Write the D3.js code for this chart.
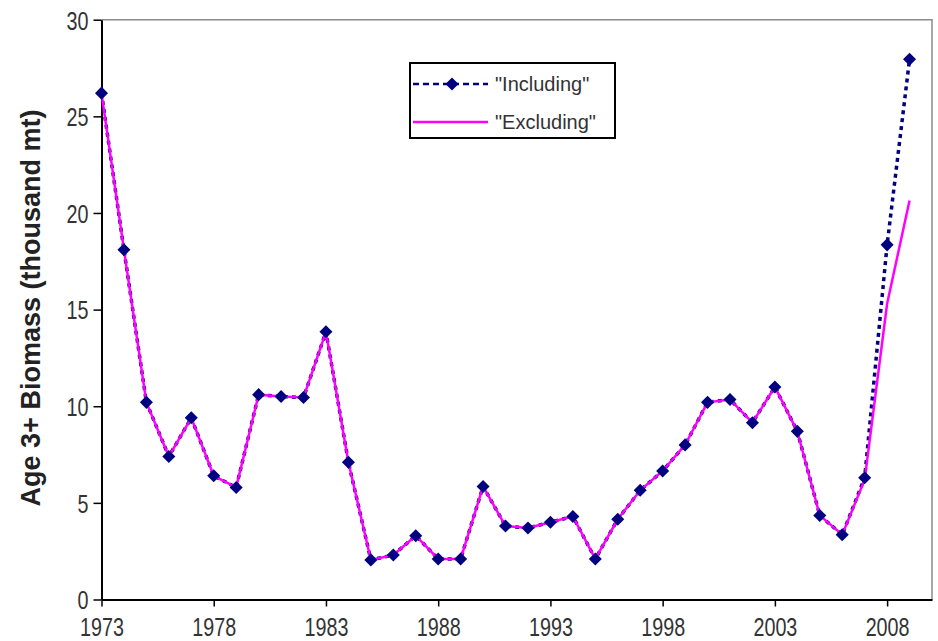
<html>
<head>
<script src="https://cdn.jsdelivr.net/npm/d3@7"></script>
<style>
  body { margin: 0; background: #fff; }
  text { font-family: "Liberation Sans", Arial, sans-serif; }
</style>
</head>
<body>
<script>

    // data
    var years = d3.range(1973, 2010);
    var including = [26.2, 18.1, 10.2, 7.4, 9.4, 6.4, 5.8, 10.6, 10.5, 10.45,
        13.85, 7.1, 2.05, 2.3, 3.3, 2.1, 2.1, 5.85, 3.8, 3.7,
        4.0, 4.3, 2.1, 4.15, 5.65, 6.65, 8.0, 10.2, 10.35, 9.15,
        11.0, 8.7, 4.35, 3.35, 6.3, 18.35, 27.95];
    var excluding = [26.2, 18.1, 10.2, 7.4, 9.4, 6.4, 5.8, 10.6, 10.5, 10.45,
        13.85, 7.1, 2.05, 2.3, 3.3, 2.1, 2.1, 5.85, 3.8, 3.7,
        4.0, 4.3, 2.1, 4.15, 5.65, 6.65, 8.0, 10.2, 10.35, 9.15,
        11.0, 8.7, 4.35, 3.35, 6.2, 15.3, 20.65];
    var yTicks = [0, 5, 10, 15, 20, 25, 30];
    var xTicks = [1973, 1978, 1983, 1988, 1993, 1998, 2003, 2008];
    var seriesNames = ['"Including"', '"Excluding"'];

    var w = 938, h = 641;
    var padL = 101.5, padT = 19.7, padR = 932, padB = 599.5;

    var x = d3.scaleLinear().domain([1973, 2010]).range([padL, padR]);
    var y = d3.scaleLinear().domain([0, 30]).range([padB, padT]);

    var svg = d3.select('body').append('svg')
        .attr('width', w)
        .attr('height', h);

    // top / right frame in gray
    svg.append('path')
        .attr('d', 'M' + padL + ',' + padT + 'H' + padR + 'V' + padB)
        .attr('fill', 'none')
        .attr('stroke', '#8c8c8c')
        .attr('stroke-width', 1.5);

    var sx = 0.76;

    var yAxis = svg.append('g')
        .attr('transform', 'translate(' + padL + ',0)')
        .call(d3.axisLeft(y).tickValues(yTicks).tickSize(8).tickPadding(0).tickSizeOuter(0));
    yAxis.select('.domain').attr('stroke', '#000').attr('stroke-width', 2);
    yAxis.selectAll('.tick line').attr('stroke', '#000').attr('stroke-width', 1.5);
    yAxis.selectAll('.tick text')
        .attr('font-size', 26)
        .attr('fill', '#333')
        .attr('x', -13 / sx)
        .attr('dy', '0.36em')
        .attr('transform', 'scale(' + sx + ',1)');

    var xAxis = svg.append('g')
        .attr('transform', 'translate(0,' + padB + ')')
        .call(d3.axisBottom(x).tickValues(xTicks).tickFormat(d3.format('d')).tickSize(7).tickSizeOuter(0));
    xAxis.select('.domain').attr('stroke', '#000').attr('stroke-width', 2);
    xAxis.selectAll('.tick line').attr('stroke', '#000').attr('stroke-width', 1.5);
    xAxis.selectAll('.tick text')
        .attr('font-size', 26)
        .attr('fill', '#333')
        .attr('y', 37)
        .attr('dy', 0)
        .attr('transform', 'scale(' + sx + ',1)');

    svg.append('text')
        .attr('transform', 'translate(40,308) rotate(-90)')
        .attr('text-anchor', 'middle')
        .attr('font-size', 27)
        .attr('font-weight', 'bold')
        .attr('fill', '#222')
        .text('Age 3+ Biomass (thousand mt)');

    var line = d3.line()
        .x((d) => { return x(d[0]) })
        .y((d) => { return y(d[1]) });

    var incl = years.map((d, i) => { return [d, including[i]] });
    var excl = years.map((d, i) => { return [d, excluding[i]] });

    svg.append('path')
        .attr('d', line(incl))
        .attr('fill', 'none')
        .attr('stroke', '#000080')
        .attr('stroke-width', 3.5)
        .attr('stroke-dasharray', '4,4');

    svg.append('path')
        .attr('d', line(excl))
        .attr('fill', 'none')
        .attr('stroke', '#ff00ff')
        .attr('stroke-width', 2.5);

    var diamond = d3.symbol(d3.symbolSquare, 85);

    svg.selectAll('.mk')
        .data(incl)
        .enter()
        .append('path')
        .attr('class', 'mk')
        .attr('d', diamond)
        .attr('transform', (d) => { return 'translate(' + x(d[0]) + ',' + y(d[1]) + ') rotate(45)' })
        .attr('fill', '#000080');

    // legend
    var lg = svg.append('g');
    lg.append('rect')
        .attr('x', 410).attr('y', 63)
        .attr('width', 205).attr('height', 75)
        .attr('fill', '#fff')
        .attr('stroke', '#000')
        .attr('stroke-width', 2);
    lg.append('line')
        .attr('x1', 413).attr('x2', 488).attr('y1', 84).attr('y2', 84)
        .attr('stroke', '#000080').attr('stroke-width', 2.5)
        .attr('stroke-dasharray', '6,4');
    lg.append('path')
        .attr('d', diamond)
        .attr('transform', 'translate(452,84) rotate(45)')
        .attr('fill', '#000080');
    lg.append('line')
        .attr('x1', 413).attr('x2', 488).attr('y1', 122).attr('y2', 122)
        .attr('stroke', '#ff00ff').attr('stroke-width', 2.5);
    lg.selectAll('.lt')
        .data(seriesNames)
        .enter()
        .append('text')
        .attr('class', 'lt')
        .attr('x', 495)
        .attr('y', (d, i) => { return 91 + i * 38 })
        .attr('font-size', 20)
        .attr('fill', '#333')
        .text((d) => { return d });

</script>
</body>
</html>
